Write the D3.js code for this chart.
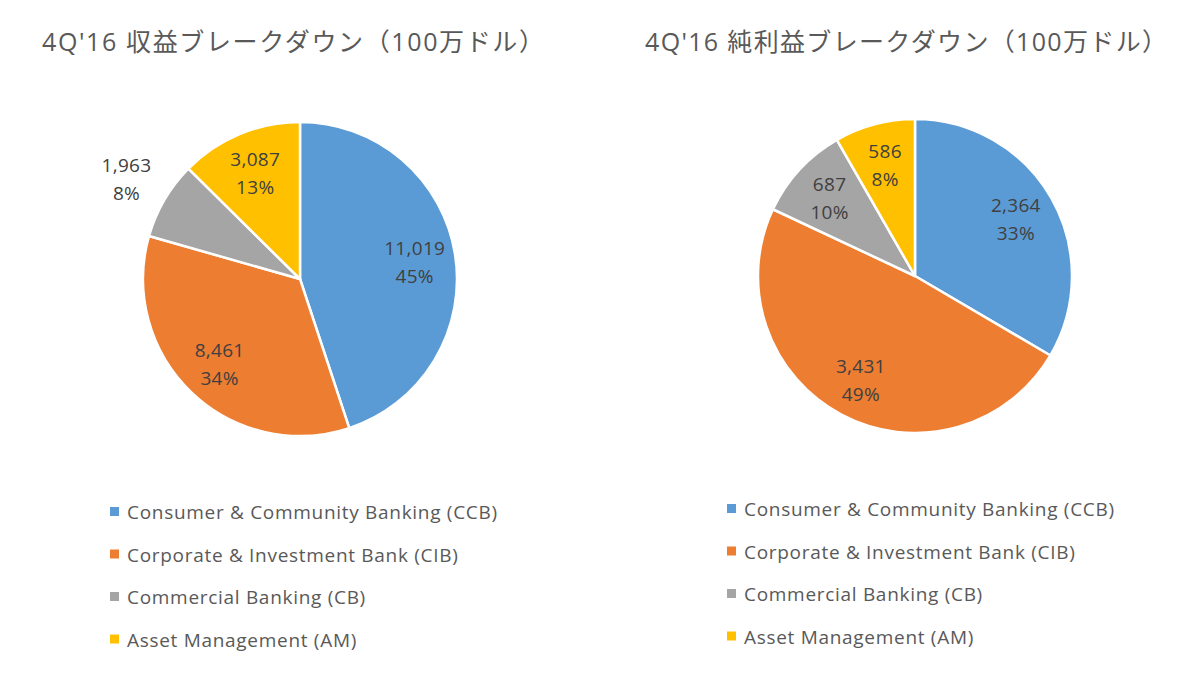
<!DOCTYPE html>
<html>
<head>
<meta charset="utf-8">
<script src="https://cdn.jsdelivr.net/npm/d3@7"></script>
<style>
  html, body { margin: 0; padding: 0; background: #ffffff; }
  svg { display: block; }
  text { font-family: "Open Sans", "Noto Sans CJK JP", sans-serif; }
</style>
</head>
<body>
<svg id="chart" width="1200" height="689"></svg>
<script>
// ---- data ----
const categories = [
  "Consumer & Community Banking (CCB)",
  "Corporate & Investment Bank (CIB)",
  "Commercial Banking (CB)",
  "Asset Management (AM)"
];
const revenueValues = [11019, 8461, 1963, 3087];
const revenuePercents = ["45%", "34%", "8%", "13%"];
const netIncomeValues = [2364, 3431, 687, 586];
const netIncomePercents = ["33%", "49%", "10%", "8%"];
const titles = ["4Q'16 収益ブレークダウン（100万ドル）", "4Q'16 純利益ブレークダウン（100万ドル）"];
const colors = ["#5B9BD5", "#ED7D31", "#A5A5A5", "#FFC000"];

// ---- layout ----
const svg = d3.select("#chart");
const textColor = "#595959";
const R = 157;
const panels = [
  { title: titles[0], values: revenueValues, pcts: revenuePercents, cx: 300, cy: 279, titleX: 42, titleW: 502, legX: 110, legY: 512, outside: [2] },
  { title: titles[1], values: netIncomeValues, pcts: netIncomePercents, cx: 915, cy: 276, titleX: 645, titleW: 522, legX: 727, legY: 509, outside: [] }
];

const fmt = d3.format(",");
const color = d3.scaleOrdinal().domain(categories).range(colors);

panels.forEach(p => {
  const g = svg.append("g");

  g.append("text")
    .attr("x", p.titleX)
    .attr("y", 51)
    .attr("font-size", 25)
    .attr("fill", textColor)
    .attr("textLength", p.titleW)
    .attr("lengthAdjust", "spacing")
    .text(p.title);

  const data = categories.map((c, i) => ({ cat: c, value: p.values[i], pct: p.pcts[i], i }));
  const pie = d3.pie().sort(null).value(d => d.value);
  const arcs = pie(data);
  const arc = d3.arc().innerRadius(0).outerRadius(R);
  const labelArcIn = d3.arc().innerRadius(R * 0.74).outerRadius(R * 0.74);
  const labelArcOut = d3.arc().innerRadius(R * 1.28).outerRadius(R * 1.28);

  const pg = g.append("g").attr("transform", `translate(${p.cx},${p.cy})`);
  pg.selectAll("path")
    .data(arcs)
    .join("path")
    .attr("d", arc)
    .attr("fill", d => color(d.data.cat))
    .attr("stroke", "#ffffff")
    .attr("stroke-width", 2.5)
    .attr("stroke-linejoin", "round");

  const lg = pg.selectAll("g.lbl")
    .data(arcs)
    .join("g")
    .attr("class", "lbl")
    .attr("transform", d => {
      const c = (p.outside.includes(d.data.i) ? labelArcOut : labelArcIn).centroid(d);
      return `translate(${c[0]},${c[1]})`;
    });
  lg.append("text")
    .attr("text-anchor", "middle")
    .attr("y", -6)
    .attr("font-size", 19)
    .attr("letter-spacing", 0.3)
    .attr("fill", "#404040")
    .text(d => fmt(d.data.value));
  lg.append("text")
    .attr("text-anchor", "middle")
    .attr("y", 22)
    .attr("font-size", 19)
    .attr("letter-spacing", 0.3)
    .attr("fill", "#404040")
    .text(d => d.data.pct);

  const leg = g.selectAll("g.leg")
    .data(categories)
    .join("g")
    .attr("class", "leg")
    .attr("transform", (d, i) => `translate(${p.legX},${p.legY + i * 42.5})`);
  leg.append("rect")
    .attr("x", 0).attr("y", -5)
    .attr("width", 9).attr("height", 9)
    .attr("fill", d => color(d));
  leg.append("text")
    .attr("x", 17)
    .attr("y", 7)
    .attr("font-size", 19)
    .attr("letter-spacing", 0.7)
    .attr("fill", textColor)
    .text(d => d);
});
</script>
</body>
</html>
